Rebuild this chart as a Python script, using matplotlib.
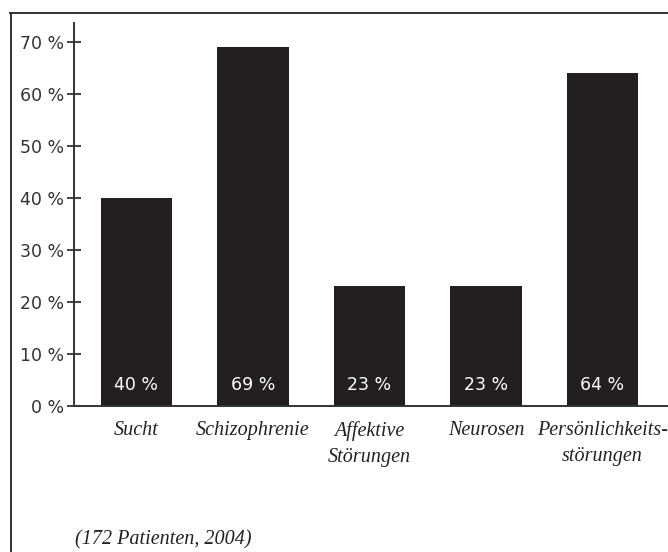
import matplotlib.pyplot as plt
from matplotlib.lines import Line2D

categories = ["Sucht", "Schizophrenie", "Affektive\nStörungen", "Neurosen",
              "Persönlichkeits-\nstörungen"]
values = [40, 69, 23, 23, 64]
yticks = [0, 10, 20, 30, 40, 50, 60, 70]
footnote = "(172 Patienten, 2004)"

W, H = 668, 552
fig = plt.figure(figsize=(W / 100, H / 100), dpi=100)

# axes placed in pixel terms: y axis at x=74, baseline at y=406, top at y=23
ax = fig.add_axes([74 / W, (H - 406) / H, 1 - 74 / W, (406 - 23) / H])

x = range(len(values))
ax.bar(x, values, width=0.61, color="#231f20", zorder=2)

for xi, v in zip(x, values):
    ax.text(xi, 4, f"{v} %", color="white", ha="center", va="center",
            fontsize=12.5, family="DejaVu Sans")

ax.set_xlim(-0.536, 4.562)
ax.set_ylim(0, 73.6)

ax.spines["top"].set_visible(False)
ax.spines["right"].set_visible(False)
for s in ("left", "bottom"):
    ax.spines[s].set_color("#333333")
    ax.spines[s].set_linewidth(1.4)

ax.set_yticks(yticks)
ax.set_yticklabels([f"{t} %" for t in yticks], fontsize=12.5,
                   color="#333333", family="DejaVu Sans")
ax.tick_params(axis="y", direction="inout", length=10, width=1.3,
               color="#333333", pad=2)

ax.set_xticks(list(x))
ax.set_xticklabels(categories, fontsize=14.5, family="Liberation Serif",
                   style="italic", color="#222222", linespacing=1.5)
ax.tick_params(axis="x", length=0, pad=11)

# outer frame, open at the right and bottom
fig.add_artist(Line2D([10.5 / W, 10.5 / W], [0, 1 - 12.7 / H],
                      color="#333333", lw=1.4, transform=fig.transFigure))
fig.add_artist(Line2D([10 / W, 1], [1 - 12.7 / H, 1 - 12.7 / H],
                      color="#333333", lw=1.4, transform=fig.transFigure))

fig.text(75 / W, 1 - 540 / H, footnote, fontsize=14.5,
         family="Liberation Serif", style="italic", color="#222222",
         va="center", ha="left")

fig.savefig("out.png", dpi=100)
